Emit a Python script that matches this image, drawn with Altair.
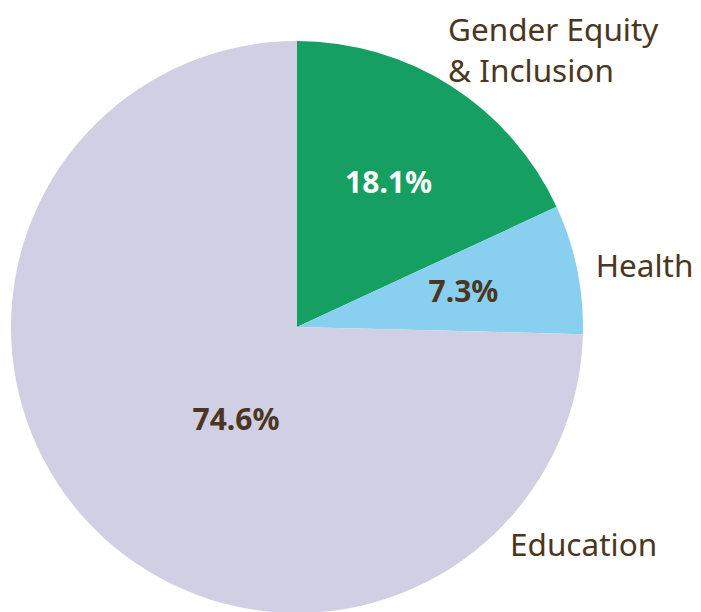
import altair as alt
import pandas as pd

categories = ["Gender Equity & Inclusion", "Health", "Education"]
shares = [18.1, 7.3, 74.6]
pct_labels = ["18.1%", "7.3%", "74.6%"]
colors = ["#169f62", "#89cff0", "#d1cfe3"]
pct_text_colors = ["#ffffff", "#4b3621", "#4b3621"]

df = pd.DataFrame({
    "category": categories,
    "share": shares,
    "pct": pct_labels,
    "idx": list(range(len(categories))),
    "tcol": pct_text_colors,
})

CX, CY, R = 289, 319, 286
FONT = "Noto Sans"
BROWN = "#4b3621"
PCT_SIZE = 30
CAT_SIZE = 31.5

base = alt.Chart(df).encode(
    theta=alt.Theta("share:Q", stack=True),
    order=alt.Order("idx:Q"),
    x=alt.value(CX),
    y=alt.value(CY),
)

pie = base.mark_arc(radius=R, stroke=None).encode(
    color=alt.Color("category:N", scale=alt.Scale(domain=categories, range=colors), legend=None)
)

pct_main = base.transform_calculate(
    t="datum.idx < 2 ? datum.pct : ''"
).mark_text(
    radius=170, font=FONT, fontSize=PCT_SIZE, fontWeight="bold"
).encode(text="t:N", color=alt.Color("tcol:N", scale=None))

pct_edu = alt.Chart(df).transform_filter(alt.datum.idx == 2).mark_text(
    font=FONT, fontSize=PCT_SIZE, fontWeight="bold", color=BROWN
).encode(text="pct:N", x=alt.value(228), y=alt.value(413))

cat_health = base.transform_calculate(
    t="datum.idx == 1 ? datum.category : ''"
).mark_text(
    radius=305, font=FONT, fontSize=CAT_SIZE, align="left", color=BROWN, dy=3
).encode(text="t:N")

cat_gender = alt.Chart(df).transform_filter(alt.datum.idx == 0).transform_calculate(
    lines="[split(datum.category, ' & ')[0], '& ' + split(datum.category, ' & ')[1]]"
).mark_text(
    font=FONT, fontSize=CAT_SIZE, align="left", baseline="top", color=BROWN, lineHeight=41
).encode(text="lines:N", x=alt.value(440), y=alt.value(8))

cat_edu = alt.Chart(df).transform_filter(alt.datum.idx == 2).mark_text(
    font=FONT, fontSize=CAT_SIZE, align="left", baseline="middle", color=BROWN
).encode(text="category:N", x=alt.value(502), y=alt.value(539))

chart = alt.layer(pie, pct_main, pct_edu, cat_health, cat_gender, cat_edu).properties(
    width=685, height=700, autosize=alt.AutoSizeParams(type="none"), padding=0
).configure_view(stroke=None)

chart.save("out.html", embed_options={"renderer": "svg", "actions": False})
